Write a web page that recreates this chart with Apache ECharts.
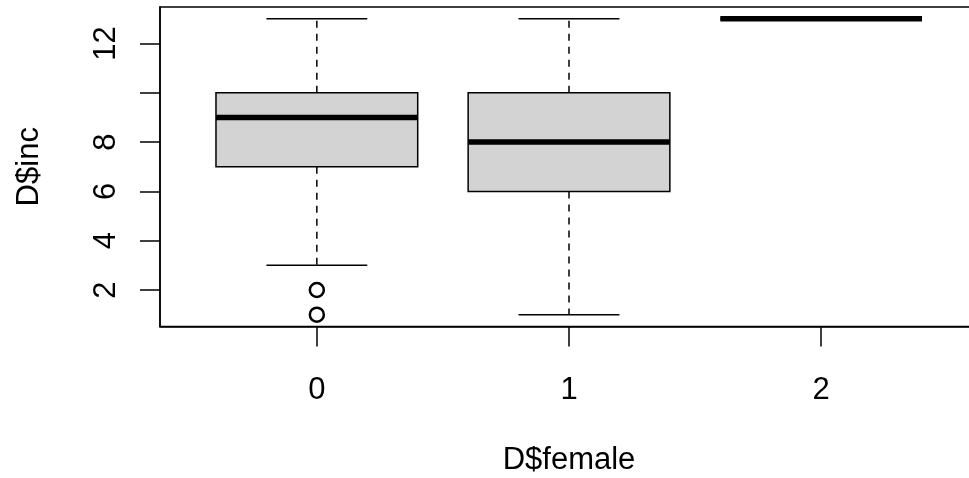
<!DOCTYPE html>
<html>
<head>
<meta charset="utf-8">
<script src="https://cdn.jsdelivr.net/npm/echarts@6/dist/echarts.min.js"></script>
<style>
  html, body { margin: 0; padding: 0; background: #fff; }
  #chart { width: 969px; height: 478px; }
</style>
</head>
<body>
<div id="chart"></div>
<script>
// boxplot stats per group of D$female
const groups = [0, 1, 2]
const lowerWhisker = [3, 1, 13]
const lowerHinge = [7, 6, 13]
const medians = [9, 8, 13]
const upperHinge = [10, 10, 13]
const upperWhisker = [13, 13, 13]
// outliers: [group, value]
const outliers = [[0, 2], [0, 1]]

const yTicks = [2, 4, 6, 8, 10, 12]
const yLabels = [2, 4, 6, 8, 12] // R drops "10" (overlap)
const xTicks = [0, 1, 2]

const font = 'Liberation Sans, Arial, sans-serif'

let boxData = groups.map((g, i) => [
  g, lowerWhisker[i], lowerHinge[i], medians[i], upperHinge[i], upperWhisker[i],
])

function renderBox(params, api) {
  let x = api.value(0)
  let pLo = api.coord([x, api.value(1)])
  let pQ1 = api.coord([x, api.value(2)])
  let pMed = api.coord([x, api.value(3)])
  let pQ3 = api.coord([x, api.value(4)])
  let pHi = api.coord([x, api.value(5)])
  let halfBox = api.size([0.4, 0])[0]
  let halfCap = api.size([0.2, 0])[0]
  let cx = pMed[0]
  let dashed = { stroke: '#000', lineWidth: 1.5, lineDash: [7, 6] }
  let solid = { stroke: '#000', lineWidth: 1.5 }
  return {
    type: 'group',
    children: [
      { type: 'line', shape: { x1: cx, y1: pQ3[1], x2: cx, y2: pHi[1] }, style: dashed },
      { type: 'line', shape: { x1: cx, y1: pQ1[1], x2: cx, y2: pLo[1] }, style: dashed },
      { type: 'line', shape: { x1: cx - halfCap, y1: pHi[1], x2: cx + halfCap, y2: pHi[1] }, style: solid },
      { type: 'line', shape: { x1: cx - halfCap, y1: pLo[1], x2: cx + halfCap, y2: pLo[1] }, style: solid },
      {
        type: 'rect',
        shape: { x: cx - halfBox, y: pQ3[1], width: halfBox * 2, height: pQ1[1] - pQ3[1] },
        style: { fill: '#d3d3d3', stroke: '#000', lineWidth: 1.5 },
      },
      {
        type: 'line',
        shape: { x1: cx - halfBox, y1: pMed[1], x2: cx + halfBox, y2: pMed[1] },
        style: { stroke: '#000', lineWidth: 5.5 },
      },
    ],
  }
}

let mychart = echarts.init(document.getElementById('chart'))
let option = {
  animation: false,
  backgroundColor: '#fff',
  grid: {
    left: 160,
    top: 7,
    width: 818,
    height: 319.5,
    outerBoundsMode: 'none',
    show: true,
    borderColor: '#000',
    borderWidth: 1.5,
    backgroundColor: 'transparent',
  },
  xAxis: {
    type: 'value',
    min: -0.622,
    max: 2.622,
    name: 'D$female',
    nameLocation: 'middle',
    nameGap: 118,
    nameTextStyle: { fontFamily: font, fontSize: 31, color: '#000' },
    axisLine: { show: true, onZero: false, lineStyle: { color: '#000', width: 1.5 } },
    axisTick: { show: true, length: 20, customValues: xTicks, lineStyle: { color: '#000', width: 1.5 } },
    axisLabel: { customValues: xTicks, margin: 48, fontFamily: font, fontSize: 31, color: '#000' },
    splitLine: { show: false },
  },
  yAxis: {
    type: 'value',
    min: 0.52,
    max: 13.48,
    name: 'D$inc',
    nameLocation: 'middle',
    nameRotate: 90,
    nameGap: 115,
    nameTextStyle: { fontFamily: font, fontSize: 31, color: '#000' },
    axisLine: { show: true, onZero: false, lineStyle: { color: '#000', width: 1.5 } },
    axisTick: { show: true, length: 20, customValues: yTicks, lineStyle: { color: '#000', width: 1.5 } },
    axisLabel: { customValues: yLabels, rotate: 90, margin: 38, fontFamily: font, fontSize: 31, color: '#000' },
    splitLine: { show: false },
  },
  series: [
    {
      type: 'custom',
      renderItem: renderBox,
      data: boxData,
      encode: { x: 0, y: [1, 2, 3, 4, 5] },
      z: 2,
    },
    {
      type: 'scatter',
      data: outliers,
      symbol: 'circle',
      symbolSize: 14,
      itemStyle: { color: '#fff', borderColor: '#000', borderWidth: 2.5, opacity: 1 },
      z: 3,
    },
  ],
}
mychart.setOption(option, true)
</script>
</body>
</html>
